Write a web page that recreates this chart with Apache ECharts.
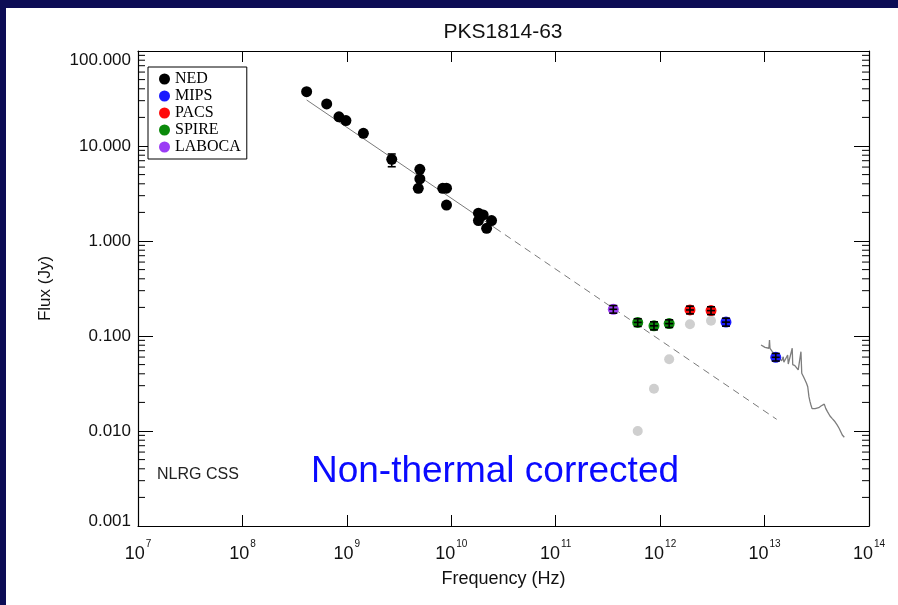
<!DOCTYPE html>
<html><head><meta charset="utf-8">
<script src="https://cdn.jsdelivr.net/npm/echarts@6/dist/echarts.min.js"></script>
<style>html,body{margin:0;padding:0;background:#fff;}#c{width:898px;height:605px;}</style>
</head><body><div id="c"></div>
<script>
// ---- data ----
const title = 'PKS1814-63';
const xTickExponents = [7, 8, 9, 10, 11, 12, 13, 14];
const yTickLabels = ['0.001', '0.010', '0.100', '1.000', '10.000', '100.000'];
const yMinorTicks = [0.002,0.003,0.004,0.005,0.006,0.007,0.008,0.009,
  0.02,0.03,0.04,0.05,0.06,0.07,0.08,0.09,
  0.2,0.3,0.4,0.5,0.6,0.7,0.8,0.9,
  2,3,4,5,6,7,8,9,
  20,30,40,50,60,70,80,90];

const nedFreq = [4.12e8, 6.41e8, 8.4e8, 9.8e8, 1.44e9, 2.69e9, 5.0e9, 5.0e9, 4.83e9, 8.28e9, 9.0e9, 9.0e9, 1.82e10, 2.02e10, 1.82e10, 2.43e10, 2.18e10];
const nedFlux = [37.3, 27.7, 20.3, 18.5, 13.6, 7.24, 5.69, 4.5, 3.59, 3.59, 3.6, 2.39, 1.96, 1.88, 1.64, 1.64, 1.36];
const nedErrFreq = [2.69e9];
const nedErrCenter = [7.24];
const nedErrLo = [6.05];
const nedErrHi = [8.24];

const mipsFreq = [4.27e12, 1.28e13];
const mipsFlux = [0.140, 0.0597];
const mipsErrLo = [0.127, 0.0545];
const mipsErrHi = [0.154, 0.0655];

const pacsFreq = [1.93e12, 3.07e12];
const pacsFlux = [0.188, 0.185];
const pacsErrLo = [0.171, 0.168];
const pacsErrHi = [0.206, 0.203];

const spireFreq = [6.1e11, 8.73e11, 1.22e12];
const spireFlux = [0.139, 0.128, 0.135];
const spireErrLo = [0.126, 0.116, 0.123];
const spireErrHi = [0.152, 0.141, 0.148];

const labocaFreq = [3.56e11];
const labocaFlux = [0.191];
const labocaErrLo = [0.174];
const labocaErrHi = [0.209];

const grayFreq = [6.1e11, 8.73e11, 1.22e12, 1.93e12, 3.07e12];
const grayFlux = [0.0100, 0.0279, 0.0569, 0.133, 0.145];

const fitFreq = [4.12e8, 2.62e10];
const fitFlux = [30.5, 1.374];
const fitDashFreq = [2.62e10, 1.306e13];
const fitDashFlux = [1.374, 0.01327];

const specFreq = [9.25e12, 9.6e12, 1.01e13, 1.05e13, 1.10e13, 1.115e13, 1.127e13, 1.16e13, 1.186e13, 1.23e13, 1.286e13, 1.36e13, 1.42e13, 1.458e13, 1.51e13, 1.53e13, 1.567e13, 1.663e13, 1.686e13, 1.76e13, 1.84e13, 1.86e13, 1.883e13, 1.95e13, 2.03e13, 2.10e13, 2.23e13, 2.27e13, 2.36e13, 2.44e13, 2.52e13, 2.59e13, 2.66e13, 2.72e13, 2.78e13, 2.85e13, 2.93e13, 3.05e13, 3.16e13, 3.3e13, 3.47e13, 3.6e13, 3.73e13, 3.85e13, 4.0e13, 4.23e13, 4.45e13, 4.73e13, 4.95e13, 5.17e13, 5.40e13, 5.55e13, 5.70e13, 5.80e13];
const specFlux = [0.0803, 0.0770, 0.0760, 0.0752, 0.0743, 0.0908, 0.0740, 0.0715, 0.0684, 0.0660, 0.0631, 0.0590, 0.0565, 0.0549, 0.0605, 0.0530, 0.0516, 0.0631, 0.0507, 0.0512, 0.0743, 0.0500, 0.0496, 0.0488, 0.0476, 0.0439, 0.0684, 0.0405, 0.0372, 0.0344, 0.0318, 0.0292, 0.0230, 0.0205, 0.0188, 0.0172, 0.0166, 0.0172, 0.0178, 0.0176, 0.0183, 0.0188, 0.0192, 0.0173, 0.0160, 0.0144, 0.0135, 0.0125, 0.0116, 0.0107, 0.0103, 0.00908, 0.00890, 0.00859];

// ---- helpers ----
const zip = (a, b) => a.map((v, i) => [v, b[i]]);
const FONT = 'Liberation Sans, Arial, sans-serif';
const SERIF = 'Liberation Serif, Times New Roman, serif';
const XMIN = 1e7, XMAX = 1e14, YMIN = 0.001, YMAX = 100;
const XMID = 1e10;

function errData(freq, flux, lo, hi) {
  return freq.map((f, i) => [f, lo[i], hi[i], flux[i]]);
}
function renderErr(params, api) {
  const x = api.value(0);
  const pLo = api.coord([x, api.value(1)]);
  const pHi = api.coord([x, api.value(2)]);
  const pC = api.coord([x, api.value(3)]);
  const cap = 4, hw = 4;
  const st = { stroke: '#000', lineWidth: 1.6 };
  return { type: 'group', children: [
    { type: 'line', shape: { x1: pLo[0], y1: pLo[1], x2: pHi[0], y2: pHi[1] }, style: st },
    { type: 'line', shape: { x1: pLo[0] - cap, y1: pLo[1], x2: pLo[0] + cap, y2: pLo[1] }, style: st },
    { type: 'line', shape: { x1: pHi[0] - cap, y1: pHi[1], x2: pHi[0] + cap, y2: pHi[1] }, style: st },
    { type: 'line', shape: { x1: pC[0] - hw, y1: pC[1], x2: pC[0] + hw, y2: pC[1] }, style: st }
  ]};
}
function renderErrNoCross(params, api) {
  const g = renderErr(params, api);
  g.children.pop();
  return g;
}
function renderMinor(params, api) {
  const p = api.coord([XMID, api.value(1)]);
  const cs = params.coordSys;
  const xl = cs.x, xr = cs.x + cs.width;
  const st = { stroke: '#000', lineWidth: 1 };
  return { type: 'group', children: [
    { type: 'line', shape: { x1: xl, y1: p[1], x2: xl + 7, y2: p[1] }, style: st },
    { type: 'line', shape: { x1: xr, y1: p[1], x2: xr - 7, y2: p[1] }, style: st }
  ]};
}

const chart = echarts.init(document.getElementById('c'), null, { renderer: 'canvas' });

const baseY = {
  type: 'log', logBase: 10, min: YMIN, max: YMAX, interval: 1,
  axisLine: { show: true, lineStyle: { color: '#000', width: 1.2 } },
  axisTick: { show: true, inside: true, length: 15, lineStyle: { color: '#000', width: 1 } },
  splitLine: { show: false }, minorTick: { show: false }
};
const baseX = {
  type: 'log', logBase: 10, min: XMIN, max: XMAX, interval: 1,
  axisLine: { show: true, lineStyle: { color: '#000', width: 1.2 } },
  axisTick: { show: true, inside: true, length: 11, lineStyle: { color: '#000', width: 1 } },
  splitLine: { show: false }
};
const solid = c => ({ color: c, opacity: 1 });

const option = {
  backgroundColor: '#ffffff',
  animation: false,
  title: {
    text: title, left: 503, textAlign: 'center', top: 22, padding: 0,
    textStyle: { fontFamily: FONT, fontSize: 21, fontWeight: 'normal', color: '#111' }
  },
  grid: { left: 138, right: 29, top: 51, bottom: 79, containLabel: false },
  legend: {
    orient: 'vertical', left: 148, top: 67,
    padding: [4, 6, 4, 11], itemGap: 1,
    itemWidth: 11, itemHeight: 11, icon: 'circle',
    borderColor: '#000', borderWidth: 1, backgroundColor: '#fff',
    itemStyle: { opacity: 1 },
    textStyle: { fontFamily: SERIF, fontSize: 16, color: '#000', lineHeight: 16 },
    data: ['NED', 'MIPS', 'PACS', 'SPIRE', 'LABOCA']
  },
  xAxis: [
    Object.assign({}, baseX, {
      position: 'bottom',
      name: 'Frequency (Hz)', nameLocation: 'middle', nameGap: 44,
      nameTextStyle: { fontFamily: FONT, fontSize: 18, color: '#111' },
      axisLabel: {
        show: true, margin: 13, color: '#111',
        formatter: v => {
          const e = Math.round(Math.log10(v));
          return xTickExponents.indexOf(e) >= 0 ? '{b|10}{s|' + e + '}' : '';
        },
        rich: {
          b: { fontFamily: FONT, fontSize: 18, color: '#111', lineHeight: 24, verticalAlign: 'bottom' },
          s: { fontFamily: FONT, fontSize: 10, color: '#111', lineHeight: 24, verticalAlign: 'top', padding: [0, 0, 0, 1] }
        }
      }
    }),
    Object.assign({}, baseX, { position: 'top', axisLabel: { show: false } })
  ],
  yAxis: [
    Object.assign({}, baseY, {
      position: 'left',
      name: 'Flux (Jy)', nameLocation: 'middle', nameGap: 84, nameRotate: 90,
      nameTextStyle: { fontFamily: FONT, fontSize: 17, color: '#111' },
      axisLabel: {
        show: true, margin: 7, fontFamily: FONT, fontSize: 17, color: '#111',
        formatter: v => {
          const e = Math.round(Math.log10(v));
          const t = yTickLabels[e + 3] || '';
          if (e === 2) return '{top|' + t + '}';
          if (e === -3) return '{bot|' + t + '}';
          return t;
        },
        rich: {
          top: { fontFamily: FONT, fontSize: 17, color: '#111', padding: [18, 0, 0, 0] },
          bot: { fontFamily: FONT, fontSize: 17, color: '#111', padding: [0, 0, 10, 0] }
        }
      }
    }),
    Object.assign({}, baseY, { position: 'right', axisLabel: { show: false } })
  ],
  graphic: [
    { type: 'rect', left: 0, top: 0, shape: { width: 898, height: 8 }, style: { fill: '#0c0c55' }, z: 100 },
    { type: 'rect', left: 0, top: 0, shape: { width: 6, height: 605 }, style: { fill: '#0c0c55' }, z: 100 },
    { type: 'text', left: 157, top: 467, style: { text: 'NLRG CSS', font: '16px ' + FONT, fill: '#222' } },
    { type: 'text', x: 495, y: 472, style: { text: 'Non-thermal corrected', font: '37px ' + FONT, fill: '#0a0aff', textAlign: 'center', textVerticalAlign: 'middle' } }
  ],
  series: [
    { type: 'custom', name: 'minor', silent: true, renderItem: renderMinor,
      data: yMinorTicks.map(v => [XMID, v]), encode: { x: 0, y: 1 }, z: 1 },
    { type: 'line', name: 'fit', data: zip(fitFreq, fitFlux), showSymbol: false, symbol: 'none',
      lineStyle: { color: '#7a7a7a', width: 1 }, z: 2 },
    { type: 'line', name: 'fitDash', data: zip(fitDashFreq, fitDashFlux), showSymbol: false, symbol: 'none',
      lineStyle: { color: '#7a7a7a', width: 1, type: [7, 5] }, z: 2 },
    { type: 'line', name: 'spectrum', data: zip(specFreq, specFlux), showSymbol: false, symbol: 'none',
      lineStyle: { color: '#7d7d7d', width: 1.3 }, z: 2 },
    { type: 'scatter', name: 'gray', data: zip(grayFreq, grayFlux), symbolSize: 10,
      itemStyle: solid('#cfcfcf'), z: 3 },
    { type: 'scatter', name: 'NED', data: zip(nedFreq, nedFlux), symbolSize: 11,
      itemStyle: solid('#000000'), z: 4 },
    { type: 'scatter', name: 'MIPS', data: zip(mipsFreq, mipsFlux), symbolSize: 11,
      itemStyle: solid('#1a1aff'), z: 4 },
    { type: 'scatter', name: 'PACS', data: zip(pacsFreq, pacsFlux), symbolSize: 11,
      itemStyle: solid('#ff0a0a'), z: 4 },
    { type: 'scatter', name: 'SPIRE', data: zip(spireFreq, spireFlux), symbolSize: 11,
      itemStyle: solid('#0b8a0b'), z: 4 },
    { type: 'scatter', name: 'LABOCA', data: zip(labocaFreq, labocaFlux), symbolSize: 11,
      itemStyle: solid('#9b3cf5'), z: 4 },
    { type: 'custom', name: 'errNED', renderItem: renderErrNoCross, silent: true,
      data: errData(nedErrFreq, nedErrCenter, nedErrLo, nedErrHi), encode: { x: 0, y: 3 }, z: 5 },
    { type: 'custom', name: 'errMIPS', renderItem: renderErr, silent: true,
      data: errData(mipsFreq, mipsFlux, mipsErrLo, mipsErrHi), encode: { x: 0, y: 3 }, z: 5 },
    { type: 'custom', name: 'errPACS', renderItem: renderErr, silent: true,
      data: errData(pacsFreq, pacsFlux, pacsErrLo, pacsErrHi), encode: { x: 0, y: 3 }, z: 5 },
    { type: 'custom', name: 'errSPIRE', renderItem: renderErr, silent: true,
      data: errData(spireFreq, spireFlux, spireErrLo, spireErrHi), encode: { x: 0, y: 3 }, z: 5 },
    { type: 'custom', name: 'errLABOCA', renderItem: renderErr, silent: true,
      data: errData(labocaFreq, labocaFlux, labocaErrLo, labocaErrHi), encode: { x: 0, y: 3 }, z: 5 }
  ]
};
chart.setOption(option);
</script>
</body></html>
